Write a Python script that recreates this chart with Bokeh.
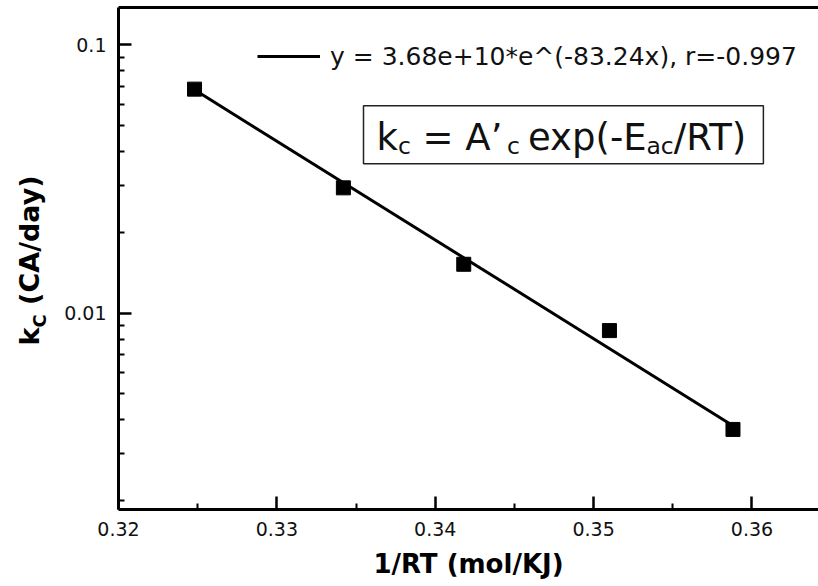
import math
from bokeh.plotting import figure
from bokeh.layouts import row
from bokeh.models import (FixedTicker, LinearAxis, Label, BoxAnnotation,
                          Legend, LegendItem, Range1d)
from bokeh.core.properties import value
from bokeh.embed import file_html
from bokeh.resources import INLINE

# ---- data ----
inv_RT = [0.3248, 0.3342, 0.3418, 0.3510, 0.3588]
k_c = [0.0684, 0.0293, 0.0152, 0.0086, 0.00368]
fit_x = [0.3248, 0.3588]
fit_y = [0.0680, 0.00380]
legend_text = "y = 3.68e+10*e^(-83.24x), r=-0.997"

x_ticks = [0.32, 0.33, 0.34, 0.35, 0.36]
x_tick_labels = ["0.32", "0.33", "0.34", "0.35", "0.36"]
x_minor = [0.325, 0.335, 0.345, 0.355]
y_ticks = [0.01, 0.1]
y_tick_labels = ["0.01", "0.1"]
y_minor = [0.002, 0.003, 0.004, 0.005, 0.006, 0.007, 0.008, 0.009,
           0.02, 0.03, 0.04, 0.05, 0.06, 0.07, 0.08, 0.09]

FONT = "DejaVu Sans"
LEFT_W = 52
FRAME_TOP, FRAME_BOTTOM = 7, 509

p = figure(width=818 - LEFT_W, height=586, y_axis_type="log",
           x_range=(0.32, 0.3642), y_range=(0.00185, 0.1379),
           output_backend="svg", toolbar_location=None,
           min_border_left=118 - LEFT_W, min_border_right=0,
           min_border_top=FRAME_TOP, min_border_bottom=586 - FRAME_BOTTOM)
p.grid.visible = False
p.outline_line_color = None
p.background_fill_color = "white"
p.border_fill_color = "white"

def style_axis(ax):
    ax.axis_line_width = 3
    ax.axis_line_color = "black"
    ax.major_tick_in = 13
    ax.major_tick_out = 0
    ax.minor_tick_in = 6
    ax.minor_tick_out = 0
    ax.major_tick_line_width = 2.5
    ax.minor_tick_line_width = 2
    ax.major_tick_line_color = "black"
    ax.minor_tick_line_color = "black"
    ax.major_label_text_font = FONT
    ax.major_label_text_font_size = "19px"
    ax.major_label_text_color = "#111111"
    ax.major_label_standoff = 12

xa = p.xaxis[0]
xa.ticker = FixedTicker(ticks=x_ticks, minor_ticks=x_minor)
xa.major_label_overrides = dict(zip(x_ticks, x_tick_labels))
style_axis(xa)
xa.axis_label = "1/RT (mol/KJ)"
xa.axis_label_text_font = FONT
xa.axis_label_text_font_style = "bold"
xa.axis_label_text_font_size = "26px"
xa.axis_label_text_color = "black"
xa.axis_label_standoff = 10

ya = p.yaxis[0]
ya.ticker = FixedTicker(ticks=y_ticks, minor_ticks=y_minor)
ya.major_label_overrides = dict(zip(y_ticks, y_tick_labels))
style_axis(ya)

top = LinearAxis(ticker=FixedTicker(ticks=[]), axis_line_width=3,
                 axis_line_color="black", major_tick_line_color=None,
                 minor_tick_line_color=None, major_label_text_font_size="0px")
p.add_layout(top, "above")

# ---- glyphs ----
r = p.line(fit_x, fit_y, line_width=3, line_color="black")
p.scatter(inv_RT, k_c, marker="square", size=14,
          fill_color="black", line_color="black")

legend = Legend(items=[LegendItem(label=legend_text, renderers=[r])],
                location=(139, 438), border_line_color=None,
                background_fill_alpha=0, padding=0, margin=0, spacing=0,
                glyph_width=63, glyph_height=30, label_height=30,
                label_standoff=10, label_text_font=FONT,
                label_text_font_size="25px", label_text_color="#111111")
p.add_layout(legend)

# ---- equation box ----
box_l, box_r, box_b, box_t = 0.33547, 0.36072, 0.03606, 0.0593
p.add_layout(BoxAnnotation(left=box_l, right=box_r, bottom=box_b, top=box_t,
                           fill_alpha=0, line_color="#222222", line_alpha=1,
                           line_width=1.5))

eq_pieces = [  # text, x offset, y offset, size
    ("k", 13, 26, "37px"),
    ("c", 34.4, 18, "23.5px"),
    ("= A\u2019", 59.1, 26, "37px"),
    ("c", 143.5, 18, "23.5px"),
    ("exp(-E", 164.5, 26, "37px"),
    ("ac", 282.9, 18, "23.5px"),
    ("/RT)", 310.2, 26, "37px"),
]
for t, xo, yo, fs in eq_pieces:
    p.add_layout(Label(x=box_l, y=box_b, text=t, x_offset=xo, y_offset=yo,
                       text_font=FONT, text_font_size=fs, text_color="#111111",
                       text_baseline="alphabetic", text_align="left"))

# ---- y axis title (with subscript) in a narrow side figure ----
# its frame is aligned with the main frame by the row layout, so the
# vertical range is expressed in the same pixel rows as the main frame
lab = figure(width=LEFT_W, height=586, x_range=Range1d(0, LEFT_W),
             y_range=Range1d(FRAME_BOTTOM, FRAME_TOP), output_backend="svg",
             toolbar_location=None, min_border=0, title=None,
             x_axis_location=None, y_axis_location=None)
lab.grid.visible = False
lab.outline_line_color = None
lab.background_fill_color = "white"
lab.border_fill_color = "white"

ylab_text = ["k", "C", "(CA/day)"]
ylab_px = [28.5, 38.7, 28.5]
ylab_py = [345, 327, 304.4]
ylab_size = ["27px", "18px", "27px"]
for t, sx, sy, fs in zip(ylab_text, ylab_px, ylab_py, ylab_size):
    lab.text(x=[sx], y=[sy], text=[t], angle=math.pi / 2,
             text_font=value(FONT), text_font_size=fs,
             text_font_style="bold", text_color="black",
             text_baseline="alphabetic", text_align="left")

layout = row(lab, p, spacing=0)
open("out.html", "w").write(file_html(layout, INLINE))
